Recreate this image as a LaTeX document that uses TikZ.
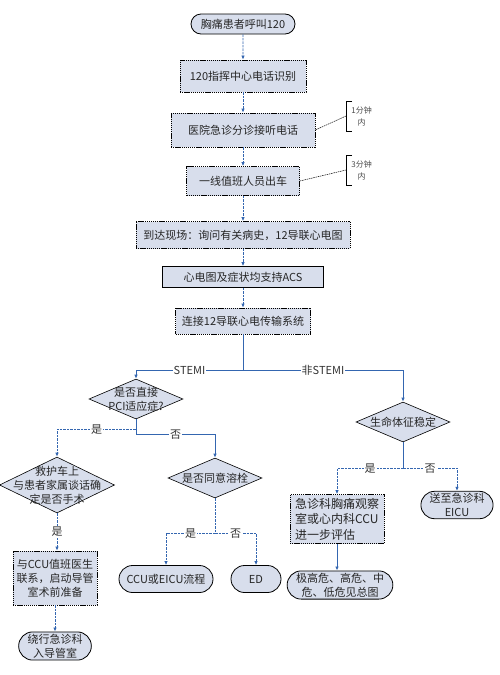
\documentclass[tikz,border=0pt]{standalone}
\usepackage{fontspec}
\setmainfont{Noto Sans CJK SC}
\usepackage{tikz}
\usetikzlibrary{arrows.meta, positioning, calc, shapes.geometric, shapes.misc}

\definecolor{boxfill}{RGB}{216,222,236}
\definecolor{flowblue}{RGB}{52,102,176}

\begin{document}
\begin{tikzpicture}[
  x=1pt, y=-1pt,
  font=\fontsize{11}{14}\selectfont,
  box/.style   = {draw, fill=boxfill, line width=0.7pt, inner sep=2pt, align=center, text=black!85},
  dbox/.style  = {box, dash pattern=on 1.3pt off 0.8pt},
  term/.style  = {draw, fill=boxfill, rounded rectangle, line width=0.8pt, inner sep=2pt, align=center, text=black!85},
  dia/.style   = {draw, diamond, fill=boxfill, line width=0.6pt, inner sep=0pt},
  line/.style  = {draw=flowblue, line width=0.8pt},
  flow/.style  = {line, -{Latex[length=4pt,width=3.5pt]}},
  flowd/.style = {flow, dash pattern=on 2.5pt off 1pt},
  lab/.style   = {fill=white, inner sep=1pt, text=black!80},
  note/.style  = {font=\fontsize{8}{12}\selectfont, text=black!70, align=center,
                  minimum height=30pt, text width=24pt, anchor=west},
  notel/.style = {draw, line width=0.5pt, dash pattern=on 1.5pt off 0.8pt}
]
  \useasboundingbox (0,0) rectangle (499,675);

  % main chain
  \node[term, minimum width=108, minimum height=20] (call) at (243,24) {胸痛患者呼叫120};
  \node[dbox, minimum width=126, minimum height=32] (cmd) at (243,76) {120指挥中心电话识别};
  \node[dbox, minimum width=144, minimum height=34] (triage) at (243,130) {医院急诊分诊接听电话};
  \node[dbox, minimum width=113, minimum height=29] (crew) at (243,181) {一线值班人员出车};
  \node[dbox, minimum width=214, minimum height=27] (arrive) at (243,235) {到达现场：询问有关病史，12导联心电图};
  \node[box, minimum width=161, minimum height=21] (acs) at (243,277) {心电图及症状均支持ACS};
  \node[dbox, minimum width=135, minimum height=26] (link) at (243,321) {连接12导联心电传输系统};

  % time notes
  \node[note] (t1) at (346,116) {1分钟\\内};
  \node[note] (t2) at (346,170) {3分钟\\内};
  \draw[line width=0.6pt] ([xshift=6pt]t1.north west) -| (t1.south west) -- ++(6pt,0);
  \draw[line width=0.6pt] ([xshift=6pt]t2.north west) -| (t2.south west) -- ++(6pt,0);
  \draw[notel] (triage.east) -- (t1.west);
  \draw[notel] (crew.east) -- (t2.west);

  % STEMI side
  \node[dia, minimum width=94, minimum height=40] (pci) at (136,399) {};
  \node[align=center, text=black!85] (pcitxt) at (pci) {是否直接\\PCI适应症?};
  \node[dia, minimum width=115, minimum height=56] (ambu) at (57,485) {};
  \node[align=center, text=black!85] (ambutxt) at (ambu) {救护车上\\与患者家属谈话确\\定是否手术};
  \node[dia, minimum width=94, minimum height=40] (lysis) at (215,478) {};
  \node[text=black!85] (lysistxt) at (lysis) {是否同意溶栓};
  \node[dbox, minimum width=84, minimum height=54] (ccu) at (55,578) {与CCU值班医生\\联系，启动导管\\室术前准备};
  \node[term, minimum width=72, minimum height=27] (bypass) at (55,646) {绕行急诊科\\入导管室};
  \node[term, minimum width=98, minimum height=27] (cicu) at (166,579) {CCU或EICU流程};
  \node[term, minimum width=54, minimum height=27] (ed) at (256,579) {ED};

  % non-STEMI side
  \node[dia, minimum width=94, minimum height=40] (vital) at (403,422) {};
  \node[text=black!85] (vitaltxt) at (vital) {生命体征稳定};
  \node[dbox, minimum width=94, minimum height=49, align=left,
        font=\fontsize{12}{15.5}\selectfont] (obs) at (337,519) {急诊科胸痛观察\\室或心内科CCU\\进一步评估};
  \node[term, minimum width=67, minimum height=25] (eicu) at (457,505) {送至急诊科\\EICU};
  \node[term, minimum width=101, minimum height=27] (risk) at (340,585) {极高危、高危、中\\危、低危见总图};

  % connections
  \draw[flowd] (call) -- (cmd);
  \draw[flowd] (cmd) -- (triage);
  \draw[flowd] (triage) -- (crew);
  \draw[flowd] (crew) -- (arrive);
  \draw[flowd] (arrive) -- (acs);
  \draw[flowd] (acs) -- (link);
  \draw[line] (link.south) -- ++(0,36) coordinate (split);
  \draw[flow] (split) -| node[lab, pos=0.25] {STEMI} (pci.north);
  \draw[flow] (split) -| node[lab, pos=0.25] {非STEMI} (vital.north);

  \draw[flowd] (pci.south) -- ++(0,10) -| node[lab, pos=0.25] {是} (ambu.north);
  \draw[flow] (pci.south) -- ++(0,15) -| node[lab, pos=0.25] {否} (lysis.north);
  \draw[flowd] (ambu.south) -- node[lab] {是} (ambu.south |- ccu.north);
  \draw[flowd] (ccu.south) -- (bypass.north);

  \draw[line, dash pattern=on 2.5pt off 1pt] (lysis.south) -- ++(0,35) coordinate (lsplit);
  \draw[flowd] (lsplit) -| node[lab, pos=0.25] {是} (cicu.north);
  \draw[flowd] (lsplit) -| node[lab, pos=0.25] {否} (ed.north);

  \draw[line] (vital.south) -- ++(0,26) coordinate (vsplit);
  \draw[flowd] (vsplit) -| node[lab, pos=0.25] {是} (obs.north);
  \draw[flowd] (vsplit) -| node[lab, pos=0.25] {否} (eicu.north);
  \draw[flow] (obs.south) -- (obs.south |- risk.north);

\end{tikzpicture}
\end{document}
